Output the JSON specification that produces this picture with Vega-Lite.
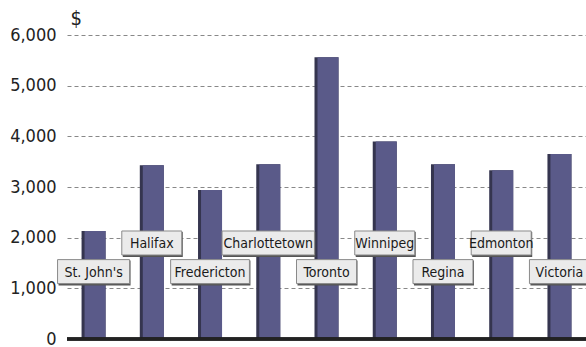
{
  "$schema": "https://vega.github.io/schema/vega-lite/v6.json",
  "width": 519,
  "height": 304,
  "autosize": "none",
  "padding": {"left": 67, "top": 35, "right": 0, "bottom": 8},
  "background": "white",
  "config": {"view": {"stroke": null}},
  "data": {
    "values": [
      {"city": "St. John's", "value": 2130},
      {"city": "Halifax", "value": 3430},
      {"city": "Fredericton", "value": 2940},
      {"city": "Charlottetown", "value": 3450},
      {"city": "Toronto", "value": 5560},
      {"city": "Winnipeg", "value": 3900},
      {"city": "Regina", "value": 3450},
      {"city": "Edmonton", "value": 3330},
      {"city": "Victoria", "value": 3650}
    ]
  },
  "transform": [
    {"window": [{"op": "row_number", "as": "idx"}]},
    {"calculate": "datum.idx % 2 == 1 ? 1330 : 1895", "as": "labelY"},
    {"calculate": "max(30, 3.4 * length(datum.city) + 2)", "as": "hw"}
  ],
  "encoding": {
    "x": {
      "field": "city",
      "type": "nominal",
      "sort": null,
      "scale": {"paddingInner": 0.588, "paddingOuter": 0.25},
      "axis": null
    }
  },
  "layer": [
    {
      "mark": {"type": "bar", "color": "#35354f"},
      "encoding": {
        "y": {
          "field": "value",
          "type": "quantitative",
          "scale": {"domain": [0, 6000]},
          "axis": {
            "values": [0, 1000, 2000, 3000, 4000, 5000, 6000],
            "format": ",d",
            "domain": false,
            "ticks": false,
            "labelFont": "DejaVu Sans Condensed, DejaVu Sans, sans-serif",
            "labelFontSize": 18,
            "labelColor": "#222222",
            "labelPadding": 11,
            "grid": true,
            "gridColor": "#888888",
            "gridDash": [4, 3],
            "gridWidth": 1,
            "title": "$",
            "titleAngle": 0,
            "titleX": 3,
            "titleY": -11,
            "titleAlign": "left",
            "titleBaseline": "alphabetic",
            "titleFont": "DejaVu Sans Condensed, DejaVu Sans, sans-serif",
            "titleFontSize": 20,
            "titleFontWeight": "normal",
            "titleColor": "#222222"
          }
        }
      }
    },
    {
      "mark": {"type": "bar", "color": "#5a5a89", "width": 21, "xOffset": 1.5},
      "encoding": {"y": {"field": "value", "type": "quantitative"}}
    },
    {
      "mark": {"type": "rule", "color": "#222222", "strokeWidth": 2.5},
      "encoding": {"y": {"datum": 0}, "x": {"value": 0}, "x2": {"value": 519}}
    },
    {
      "mark": {
        "type": "rect",
        "color": "#555555",
        "xOffset": {"expr": "1 - datum.hw"},
        "x2Offset": {"expr": "datum.hw + 1"},
        "yOffset": -11,
        "y2Offset": 14
      },
      "encoding": {
        "x": {"field": "city", "type": "nominal", "sort": null, "bandPosition": 0.5},
        "x2": {"field": "city", "bandPosition": 0.5},
        "y": {"field": "labelY", "type": "quantitative"},
        "y2": {"field": "labelY"}
      }
    },
    {
      "mark": {
        "type": "rect",
        "fill": "#ebebeb",
        "stroke": "#8a8a8a",
        "strokeWidth": 1,
        "xOffset": {"expr": "-datum.hw"},
        "x2Offset": {"expr": "datum.hw"},
        "yOffset": -12,
        "y2Offset": 12
      },
      "encoding": {
        "x": {"field": "city", "type": "nominal", "sort": null, "bandPosition": 0.5},
        "x2": {"field": "city", "bandPosition": 0.5},
        "y": {"field": "labelY", "type": "quantitative"},
        "y2": {"field": "labelY"}
      }
    },
    {
      "mark": {
        "type": "text",
        "font": "DejaVu Sans Condensed, DejaVu Sans, sans-serif",
        "fontSize": 14,
        "color": "#1a1a1a",
        "align": "center",
        "baseline": "middle",
        "dy": 1
      },
      "encoding": {
        "x": {"field": "city", "type": "nominal", "sort": null, "bandPosition": 0.5},
        "y": {"field": "labelY", "type": "quantitative"},
        "text": {"field": "city"}
      }
    }
  ]
}
